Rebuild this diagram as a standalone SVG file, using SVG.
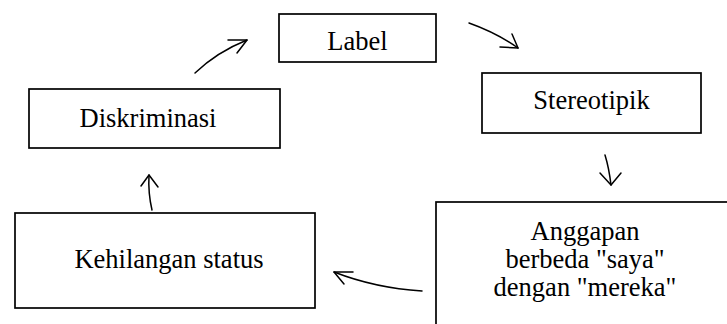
<svg xmlns="http://www.w3.org/2000/svg" width="727" height="324" viewBox="0 0 727 324">
<style>
.box{fill:#fff;stroke:#000;stroke-width:1.7}
.t{font-family:"Liberation Serif","Times New Roman",serif;font-size:26.5px;fill:#000;text-anchor:middle}
.c{fill:none;stroke:#000;stroke-width:1.5;stroke-linecap:round;stroke-linejoin:round}
</style>
<rect width="727" height="324" fill="#fff"/>
<g id="label"><rect class="box" x="279" y="14" width="157" height="48"/><text class="t" x="357.5" y="50">Label</text></g>
<g id="stereotipik"><rect class="box" x="482" y="73" width="219" height="60"/><text class="t" x="591.5" y="109">Stereotipik</text></g>
<g id="anggapan"><rect class="box" x="436" y="202" width="300" height="140"/><text class="t" x="585" y="240">Anggapan</text><text class="t" x="585" y="268">berbeda "saya"</text><text class="t" x="585" y="296">dengan "mereka"</text></g>
<g id="kehilangan"><rect class="box" x="15" y="213" width="300" height="95"/><text class="t" x="169" y="268">Kehilangan status</text></g>
<g id="diskriminasi"><rect class="box" x="29" y="89" width="251" height="59"/><text class="t" x="148" y="127">Diskriminasi</text></g>
<g id="connectors">
<path class="c" d="M195 73 Q217 52 247 40"/><path class="c" d="M228 40 L247 40 L237 53"/>
<path class="c" d="M469 23 Q497 33 518 48"/><path class="c" d="M512 34 L518 48 L500 47"/>
<path class="c" d="M605 155 Q609 168 611 185"/><path class="c" d="M600 173 L611 185 L621 173"/>
<path class="c" d="M422 291 Q375 288 334 272"/><path class="c" d="M353 272 L334 272 L344 284"/>
<path class="c" d="M152 210 Q148 193 149 175"/><path class="c" d="M141 186 L149 175 L158 187"/>
</g>
</svg>
